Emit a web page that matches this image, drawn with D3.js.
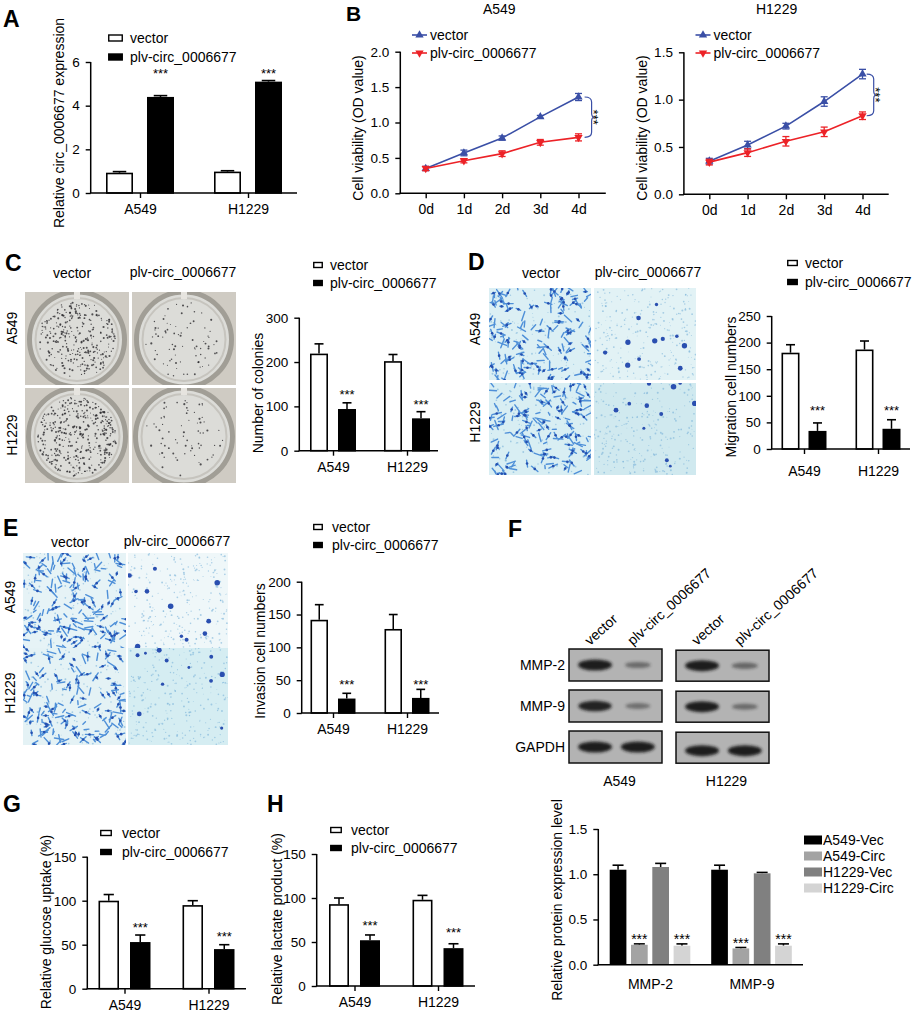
<!DOCTYPE html>
<html>
<head>
<meta charset="utf-8">
<script src="https://cdn.jsdelivr.net/npm/d3@7"></script>
<style>
  body { margin: 0; background: #fff; }
  svg { display: block; }
</style>
</head>
<body>
<svg id="fig" width="913" height="1013"></svg>
<script>
const FONT = '"Liberation Sans", Arial, Helvetica, sans-serif';

// ---- data ----
const cellLines = ["A549", "H1229"];
const seriesNames = ["vector", "plv-circ_0006677"];

// A: relative circ_0006677 expression
const exprVector = [0.93, 0.98], exprVectorErr = [0.05, 0.04];
const exprPlv = [4.40, 5.10], exprPlvErr = [0.06, 0.05];

// B: cell viability (OD value)
const days = ["0d", "1d", "2d", "3d", "4d"];
const odA549Vector = [0.35, 0.57, 0.78, 1.08, 1.36], odA549VectorErr = [0.03, 0.04, 0.03, 0.02, 0.05];
const odA549Plv = [0.35, 0.46, 0.56, 0.72, 0.79], odA549PlvErr = [0.03, 0.03, 0.04, 0.04, 0.05];
const odH1229Vector = [0.35, 0.52, 0.72, 0.98, 1.27], odH1229VectorErr = [0.03, 0.04, 0.03, 0.05, 0.05];
const odH1229Plv = [0.34, 0.44, 0.56, 0.66, 0.83], odH1229PlvErr = [0.03, 0.04, 0.05, 0.05, 0.04];

// C: number of colonies
const colVector = [219, 202], colVectorErr = [22, 15];
const colPlv = [94, 73], colPlvErr = [14, 15];

// D: migration cell numbers
const migVector = [181, 187], migVectorErr = [15, 16];
const migPlv = [34, 38], migPlvErr = [15, 17];

// E: invasion cell numbers
const invVector = [142, 128], invVectorErr = [23, 22];
const invPlv = [22, 23], invPlvErr = [8, 13];

// F: western blot band strength (A549 vector, A549 plv, H1229 vector, H1229 plv)
const blotRows = ["MMP-2", "MMP-9", "GAPDH"];
const mmp2Bands = [1.0, 0.30, 1.0, 0.34];
const mmp9Bands = [0.95, 0.26, 1.0, 0.30];
const gapdhBands = [1.0, 1.0, 1.0, 1.0];
const blotBands = [mmp2Bands, mmp9Bands, gapdhBands];

// F lower: relative protein expression level
const proteins = ["MMP-2", "MMP-9"];
const protSeries = ["A549-Vec", "A549-Circ", "H1229-Vec", "H1229-Circ"];
const protA549Vec = [1.05, 1.05], protA549VecErr = [0.05, 0.05];
const protA549Circ = [0.22, 0.18], protA549CircErr = [0.01, 0.01];
const protH1229Vec = [1.08, 1.01], protH1229VecErr = [0.04, 0.01];
const protH1229Circ = [0.21, 0.21], protH1229CircErr = [0.02, 0.02];

// G, H: glucose uptake and lactate product (%)
const gluVector = [100, 95], gluVectorErr = [7, 5];
const gluPlv = [53, 45], gluPlvErr = [8, 5];
const lacVector = [93, 98], lacVectorErr = [7, 5];
const lacPlv = [52, 43], lacPlvErr = [6, 5];

const BLUE = "#3a4fa6", RED = "#ec2227";

const svg = d3.select("#fig");
const defs = svg.append("defs");
defs.append("filter").attr("id", "soft")
  .attr("x", "-50%").attr("y", "-80%").attr("width", "200%").attr("height", "260%")
  .append("feGaussianBlur").attr("stdDeviation", 1.8);

function txt(g, x, y, s, size, opts) {
  opts = opts || {};
  return g.append("text")
    .attr("x", x).attr("y", y)
    .attr("font-family", FONT)
    .attr("font-size", size)
    .attr("font-weight", opts.bold ? "bold" : null)
    .attr("text-anchor", opts.anchor || "start")
    .attr("dominant-baseline", opts.base || null)
    .attr("fill", "#000")
    .text(s);
}

function vtxt(g, x, y, s, size) {
  return g.append("text")
    .attr("transform", `translate(${x},${y}) rotate(-90)`)
    .attr("font-family", FONT).attr("font-size", size)
    .attr("text-anchor", "middle").attr("dominant-baseline", "central")
    .text(s);
}

function styleAxis(ax, size) {
  ax.select(".domain").remove();
  ax.selectAll("line").attr("stroke", "#000").attr("stroke-width", 1.4);
  ax.selectAll("text").attr("font-size", size).attr("font-family", FONT).attr("fill", "#000");
}

function leftAxis(g, y, axisX, ticks, fmt) {
  g.append("line")
    .attr("x1", axisX).attr("x2", axisX)
    .attr("y1", y.range()[0]).attr("y2", y.range()[1])
    .attr("stroke", "#000").attr("stroke-width", 1.5);
  const ax = g.append("g").attr("transform", `translate(${axisX},0)`)
    .call(d3.axisLeft(y).tickValues(ticks).tickFormat(d3.format(fmt || "d")).tickSize(5).tickPadding(6));
  styleAxis(ax, 13.5);
}

function bottomAxis(g, x, y0, axisX, xEnd, tick, pad) {
  g.append("line")
    .attr("x1", axisX - 0.75).attr("x2", xEnd)
    .attr("y1", y0).attr("y2", y0)
    .attr("stroke", "#000").attr("stroke-width", 1.5);
  const ax = g.append("g").attr("transform", `translate(0,${y0})`)
    .call(d3.axisBottom(x).tickSize(tick).tickPadding(pad));
  styleAxis(ax, 14);
}

// grouped bar chart with upward error bars (GraphPad style)
function barPanel(cfg) {
  const g = svg.append("g");
  const y = d3.scaleLinear().domain([0, cfg.yMax]).range([cfg.y0, cfg.yTop]);
  const x = d3.scalePoint().domain(cfg.groups).range(cfg.centers);
  const n = cfg.series.length;
  const half = (n * cfg.bw + (n - 1) * cfg.gap) / 2;
  const sub = d3.scaleBand().domain(d3.range(n)).range([-half, half])
    .paddingInner(cfg.gap / (cfg.bw + cfg.gap));
  const bw = sub.bandwidth();

  cfg.series.forEach((s, si) => {
    const rows = cfg.groups.map((k, i) => ({
      v: s.values[i], e: s.err[i],
      star: s.stars ? s.stars[i] : null,
      cx: x(k) + sub(si) + bw / 2
    }));
    const sg = g.append("g");
    const sw = s.stroke ? 1.6 : 0;
    const cap = cfg.cap || bw * 0.5;
    sg.selectAll("line.eb").data(rows).join("line").attr("class", "eb")
      .attr("x1", d => d.cx).attr("x2", d => d.cx)
      .attr("y1", d => y(d.v)).attr("y2", d => y(d.v + d.e))
      .attr("stroke", "#000").attr("stroke-width", 1.5);
    sg.selectAll("line.cap").data(rows).join("line").attr("class", "cap")
      .attr("x1", d => d.cx - cap / 2).attr("x2", d => d.cx + cap / 2)
      .attr("y1", d => y(d.v + d.e)).attr("y2", d => y(d.v + d.e))
      .attr("stroke", "#000").attr("stroke-width", 1.6);
    sg.selectAll("rect").data(rows).join("rect")
      .attr("x", d => d.cx - bw / 2 + sw / 2)
      .attr("y", d => y(d.v) + sw / 2)
      .attr("width", bw - sw)
      .attr("height", d => cfg.y0 - y(d.v) - sw / 2)
      .attr("fill", s.fill)
      .attr("stroke", s.stroke || "none")
      .attr("stroke-width", sw);
    sg.selectAll("text.star").data(rows.filter(d => d.star != null)).join("text").attr("class", "star")
      .attr("x", d => d.cx).attr("y", d => y(d.star) + (cfg.starSize || 13) * 0.55)
      .attr("text-anchor", "middle").attr("font-family", FONT)
      .attr("font-size", cfg.starSize || 13)
      .text("***");
  });

  leftAxis(g, y, cfg.axisX, cfg.yTicks, cfg.fmt);
  bottomAxis(g, x, cfg.y0, cfg.axisX, cfg.xEnd, cfg.xTick == null ? 5 : cfg.xTick, cfg.xPad || 6);
  vtxt(g, cfg.labelX, cfg.labelY, cfg.ylabel, 14);

  if (cfg.legend) {
    const L = cfg.legend;
    cfg.series.forEach((s, si) => {
      const yy = L.y + si * L.dy;
      g.append("rect")
        .attr("x", L.x + 0.75).attr("y", yy - L.h / 2)
        .attr("width", L.w - 1.5).attr("height", L.h)
        .attr("fill", s.fill).attr("stroke", "#000").attr("stroke-width", 1.4);
      txt(g, L.tx, yy, s.name, 14, { base: "central" });
    });
  }
  return g;
}

// growth curve panel (B)
function linePanel(cfg) {
  const g = svg.append("g");
  const y = d3.scaleLinear().domain([0, cfg.yMax]).range([cfg.y0, cfg.yTop]);
  const x = d3.scalePoint().domain(days).range(cfg.xr);
  leftAxis(g, y, cfg.axisX, cfg.yTicks, ".1f");
  bottomAxis(g, x, cfg.y0, cfg.axisX, cfg.xEnd, 5, 6);
  vtxt(g, cfg.labelX, cfg.labelY, "Cell viability (OD value)", 14);
  txt(g, cfg.titleX, 9, cfg.title, 14, { anchor: "middle", base: "central" });

  const line = d3.line().x((d, i) => x(days[i])).y(d => y(d));
  cfg.series.forEach((s, si) => {
    const sg = g.append("g");
    const rows = s.values.map((v, i) => ({ v, e: s.err[i], cx: x(days[i]) }));
    sg.append("path").datum(s.values).attr("d", line)
      .attr("fill", "none").attr("stroke", s.color).attr("stroke-width", 1.6);
    sg.selectAll("line.eb").data(rows).join("line").attr("class", "eb")
      .attr("x1", d => d.cx).attr("x2", d => d.cx)
      .attr("y1", d => y(d.v - d.e)).attr("y2", d => y(d.v + d.e))
      .attr("stroke", s.color).attr("stroke-width", 1.3);
    [1, -1].forEach(sgn => {
      sg.selectAll("line.cap" + (sgn > 0 ? "t" : "b")).data(rows).join("line")
        .attr("class", "cap" + (sgn > 0 ? "t" : "b"))
        .attr("x1", d => d.cx - 3.5).attr("x2", d => d.cx + 3.5)
        .attr("y1", d => y(d.v + sgn * d.e)).attr("y2", d => y(d.v + sgn * d.e))
        .attr("stroke", s.color).attr("stroke-width", 1.3);
    });
    sg.selectAll("path.mk").data(rows).join("path").attr("class", "mk")
      .attr("d", d3.symbol(d3.symbolTriangle, 30))
      .attr("transform", d => `translate(${d.cx},${y(d.v)}) rotate(${s.down ? 180 : 0})`)
      .attr("fill", s.color);

    // legend
    const ly = 35 + si * 18;
    g.append("line").attr("x1", cfg.legendX).attr("x2", cfg.legendX + 15)
      .attr("y1", ly).attr("y2", ly).attr("stroke", s.color).attr("stroke-width", 1.6);
    g.append("path").attr("d", d3.symbol(d3.symbolTriangle, 30))
      .attr("transform", `translate(${cfg.legendX + 7.5},${ly}) rotate(${s.down ? 180 : 0})`)
      .attr("fill", s.color);
    txt(g, cfg.legendX + 18, ly, s.name, 14, { base: "central" });
  });

  // significance bracket at day 4
  const last = days.length - 1;
  const y1 = y(cfg.series[0].values[last]), y2 = y(cfg.series[1].values[last]);
  const bx = cfg.bracketX, ym = (y1 + y2) / 2;
  g.append("path")
    .attr("d", `M${bx - 7},${y1} Q${bx},${y1} ${bx},${y1 + 5} L${bx},${ym - 4} Q${bx},${ym} ${bx + 3},${ym}` +
      ` Q${bx},${ym} ${bx},${ym + 4} L${bx},${y2 - 5} Q${bx},${y2} ${bx - 7},${y2}`)
    .attr("fill", "none").attr("stroke", BLUE).attr("stroke-width", 1.2);
  g.append("text")
    .attr("transform", `translate(${bx + 6},${ym}) rotate(90)`)
    .attr("text-anchor", "middle").attr("dominant-baseline", "central")
    .attr("font-family", FONT).attr("font-size", 13)
    .attr("dy", "0.3em")
    .text("***");
}

// ---- photo stand-ins (textures only, not data) ----
let clipN = 0;
function tileGroup(x, y, w, h) {
  const id = "clip" + (clipN++);
  defs.append("clipPath").attr("id", id)
    .append("rect").attr("x", x).attr("y", y).attr("width", w).attr("height", h);
  return svg.append("g").attr("clip-path", `url(#${id})`);
}

function plateTile(x, y, w, h, nCol, seed) {
  const g = tileGroup(x, y, w, h);
  g.append("rect").attr("x", x).attr("y", y).attr("width", w).attr("height", h).attr("fill", "#cfcbc3");
  const cx = x + w / 2, cy = y + h / 2 + 1, r = Math.min(w, h) / 2 + 1;
  g.append("circle").attr("cx", cx).attr("cy", cy).attr("r", r)
    .attr("fill", "#dcdcd8").attr("stroke", "#a19e96").attr("stroke-width", 5);
  g.append("circle").attr("cx", cx).attr("cy", cy).attr("r", r - 6)
    .attr("fill", "none").attr("stroke", "#c6c4be").attr("stroke-width", 2);
  g.append("rect").attr("x", cx - 3).attr("y", y).attr("width", 6).attr("height", 7).attr("fill", "#e6e4df");
  const rnd = d3.randomLcg(seed);
  const pts = d3.range(nCol).map(() => {
    const a = rnd() * 2 * Math.PI, rr = Math.sqrt(rnd()) * (r - 9);
    return [cx + rr * Math.cos(a), cy + rr * Math.sin(a), 0.5 + rnd() * 0.6];
  });
  g.selectAll("circle.col").data(pts).join("circle").attr("class", "col")
    .attr("cx", d => d[0]).attr("cy", d => d[1]).attr("r", d => d[2])
    .attr("fill", "#2c2a2e").attr("opacity", 0.8);
}

function cellTile(x, y, w, h, dense, seed, bg) {
  const g = tileGroup(x, y, w, h);
  g.append("rect").attr("x", x).attr("y", y).attr("width", w).attr("height", h).attr("fill", bg);
  const rnd = d3.randomLcg(seed);
  const specks = d3.range(dense ? 120 : 260).map(() => [x + rnd() * w, y + rnd() * h, 0.4 + rnd() * 0.6]);
  g.selectAll("circle.sp").data(specks).join("circle").attr("class", "sp")
    .attr("cx", d => d[0]).attr("cy", d => d[1]).attr("r", d => d[2])
    .attr("fill", "#7ab2d8").attr("opacity", 0.6);
  if (dense) {
    const cells = d3.range(170).map(() => ({
      px: x + rnd() * w, py: y + rnd() * h, a: rnd() * Math.PI, L: 3 + rnd() * 7
    }));
    g.selectAll("line.cell").data(cells).join("line").attr("class", "cell")
      .attr("x1", d => d.px - Math.cos(d.a) * d.L / 2).attr("y1", d => d.py - Math.sin(d.a) * d.L / 2)
      .attr("x2", d => d.px + Math.cos(d.a) * d.L / 2).attr("y2", d => d.py + Math.sin(d.a) * d.L / 2)
      .attr("stroke", "#4f90d8").attr("stroke-width", 1.4).attr("stroke-linecap", "round");
    g.selectAll("circle.nuc").data(cells.filter((d, i) => i % 2 === 0)).join("circle").attr("class", "nuc")
      .attr("cx", d => d.px).attr("cy", d => d.py).attr("r", 1.3).attr("fill", "#2550b0");
  } else {
    const blobs = d3.range(11).map(() => [x + rnd() * w, y + rnd() * h, 1.4 + rnd() * 1.4]);
    g.selectAll("circle.bl").data(blobs).join("circle").attr("class", "bl")
      .attr("cx", d => d[0]).attr("cy", d => d[1]).attr("r", d => d[2])
      .attr("fill", "#2a4fb0");
  }
}

function photoLabels(cols, rowsC, topY, sideX) {
  txt(svg, cols[0], topY, "vector", 14, { anchor: "middle", base: "central" });
  txt(svg, cols[1], topY - 1, "plv-circ_0006677", 14, { anchor: "middle", base: "central" });
  vtxt(svg, sideX, rowsC[0], "A549", 14);
  vtxt(svg, sideX, rowsC[1], "H1229", 14);
}

// ---- panel letters ----
[["A", 3, 27], ["B", 346, 21], ["C", 5, 271], ["D", 468, 270],
 ["E", 3, 536], ["F", 508, 537], ["G", 3, 812], ["H", 267, 812]]
  .forEach(([s, x, y]) => txt(svg, x, y, s, s === "B" ? 21 : 23, { bold: true }));

// ---- A ----
barPanel({
  groups: cellLines, axisX: 90.7, y0: 193, yTop: 62, yMax: 6, yTicks: [0, 2, 4, 6],
  xEnd: 297, centers: [140, 248], bw: 27, gap: 14,
  series: [
    { name: seriesNames[0], values: exprVector, err: exprVectorErr, fill: "#fff", stroke: "#000" },
    { name: seriesNames[1], values: exprPlv, err: exprPlvErr, fill: "#000", stroke: "#000", stars: [5.59, 5.59] }
  ],
  ylabel: "Relative circ_0006677 expression", labelX: 59, labelY: 123,
  legend: { x: 108, y: 38, dy: 19, w: 15, h: 6, tx: 130 }
});

// ---- B ----
linePanel({
  axisX: 400.3, y0: 193.3, yTop: 51.7, yMax: 2.0, yTicks: [0, 0.5, 1.0, 1.5, 2.0],
  xr: [425.7, 578.5], xEnd: 605.8, title: "A549", titleX: 499.3,
  bracketX: 591.6, legendX: 412, labelX: 358, labelY: 128,
  series: [
    { name: seriesNames[0], values: odA549Vector, err: odA549VectorErr, color: BLUE },
    { name: seriesNames[1], values: odA549Plv, err: odA549PlvErr, color: RED, down: true }
  ]
});
linePanel({
  axisX: 683.9, y0: 194.3, yTop: 52.3, yMax: 1.5, yTicks: [0, 0.5, 1.0, 1.5],
  xr: [709.3, 862.5], xEnd: 888.7, title: "H1229", titleX: 776.6,
  bracketX: 873.7, legendX: 695.5, labelX: 642, labelY: 128,
  series: [
    { name: seriesNames[0], values: odH1229Vector, err: odH1229VectorErr, color: BLUE },
    { name: seriesNames[1], values: odH1229Plv, err: odH1229PlvErr, color: RED, down: true }
  ]
});

// ---- C ----
plateTile(25, 292, 104, 93, 300, 0.11);
plateTile(132, 292, 104, 93, 80, 0.23);
plateTile(25, 388, 104, 95, 380, 0.37);
plateTile(132, 388, 104, 95, 70, 0.41);
photoLabels([72, 183], [328, 435], 273, 12);
barPanel({
  groups: cellLines, axisX: 299.3, y0: 450.7, yTop: 317.7, yMax: 300, yTicks: [0, 100, 200, 300],
  xEnd: 438, centers: [333, 407], bw: 18, gap: 10,
  series: [
    { name: seriesNames[0], values: colVector, err: colVectorErr, fill: "#fff", stroke: "#000" },
    { name: seriesNames[1], values: colPlv, err: colPlvErr, fill: "#000", stroke: "#000", stars: [132, 110] }
  ],
  ylabel: "Number of colonies", labelX: 258, labelY: 393,
  legend: { x: 313, y: 265, dy: 18, w: 10, h: 5, tx: 330 }
});

// ---- D ----
cellTile(489, 288, 102, 92, true, 0.13, "#dbeff4");
cellTile(594, 288, 102, 92, false, 0.29, "#e2f2f5");
cellTile(489, 383, 102, 92, true, 0.47, "#d8eef3");
cellTile(594, 383, 102, 92, false, 0.53, "#d0e9ef");
photoLabels([541, 648], [329, 422], 273, 475);
barPanel({
  groups: cellLines, axisX: 771.7, y0: 449, yTop: 316, yMax: 250, yTicks: [0, 50, 100, 150, 200, 250],
  xEnd: 910, centers: [804, 878], bw: 18, gap: 9, xPad: 12,
  series: [
    { name: seriesNames[0], values: migVector, err: migVectorErr, fill: "#fff", stroke: "#000" },
    { name: seriesNames[1], values: migPlv, err: migPlvErr, fill: "#000", stroke: "#000", stars: [77, 77] }
  ],
  ylabel: "Migration cell numbers", labelX: 731, labelY: 387,
  legend: { x: 787, y: 263, dy: 19, w: 11, h: 5, tx: 805 }
});

// ---- E ----
cellTile(23, 553, 103, 95, true, 0.61, "#e6f3f6");
cellTile(128, 553, 100, 95, false, 0.67, "#eff7f9");
cellTile(23, 648, 103, 97, true, 0.71, "#e4f2f5");
cellTile(128, 648, 100, 97, false, 0.79, "#d5edf2");
photoLabels([70, 177], [597, 693], 542, 10);
barPanel({
  groups: cellLines, axisX: 301.7, y0: 713, yTop: 581.7, yMax: 200, yTicks: [0, 50, 100, 150, 200],
  xEnd: 439, centers: [333, 407], bw: 17.5, gap: 10,
  series: [
    { name: seriesNames[0], values: invVector, err: invVectorErr, fill: "#fff", stroke: "#000" },
    { name: seriesNames[1], values: invPlv, err: invPlvErr, fill: "#000", stroke: "#000", stars: [47, 47] }
  ],
  ylabel: "Invasion cell numbers", labelX: 260, labelY: 651,
  legend: { x: 313, y: 527, dy: 18, w: 10, h: 5, tx: 332 }
});

// ---- F: western blots ----
(function () {
  const g = svg.append("g");
  const rowY = d3.scaleBand().domain(blotRows).range([649, 763]).paddingInner(0.22);
  const colX = d3.scaleBand().domain(cellLines).range([569, 769]).paddingInner(0.131);
  const lanes = [0.28, 0.74];
  cellLines.forEach((cl, ci) => {
    const bx = colX(cl), w = colX.bandwidth();
    blotRows.forEach((row, ri) => {
      const by = rowY(row) + ci * 1.2, h = rowY.bandwidth() - ci;
      g.append("rect").attr("x", bx).attr("y", by).attr("width", w).attr("height", h)
        .attr("fill", "#b3b3b3").attr("stroke", "#111").attr("stroke-width", 1.5);
      const bands = lanes.map((f, li) => ({ cx: bx + f * w, k: blotBands[ri][ci * 2 + li] }));
      g.selectAll(null).data(bands).join("ellipse")
        .attr("cx", d => d.cx).attr("cy", by + h / 2 + (ri === 2 && ci === 1 ? 3 : 0))
        .attr("rx", d => 11 + 6 * d.k).attr("ry", d => 2 + 3.5 * d.k)
        .attr("fill", "#141414").attr("opacity", d => 0.25 + 0.7 * d.k)
        .attr("filter", "url(#soft)");
    });
    // lane headers
    lanes.forEach((f, li) => {
      g.append("text")
        .attr("transform", `translate(${bx + f * w - 5},${rowY(blotRows[0]) - 3}) rotate(-42)`)
        .attr("font-family", FONT).attr("font-size", 14)
        .text(li === 0 ? "vector" : "plv-circ_0006677");
    });
    txt(g, bx + w / 2 + 4, 781, cl, 14, { anchor: "middle", base: "central" });
  });
  blotRows.forEach(row => {
    txt(g, 565, rowY(row) + rowY.bandwidth() / 2, row, 14, { anchor: "end", base: "central" });
  });
})();

// ---- F lower: protein quantification ----
const protFills = ["#000", "#a3a3a3", "#808080", "#d4d4d4"];
barPanel({
  groups: proteins, axisX: 598.3, y0: 964.7, yTop: 829, yMax: 1.5, yTicks: [0, 0.5, 1.0, 1.5], fmt: ".1f",
  xEnd: 803, centers: [650, 751.5], bw: 16.7, gap: 4.6, xTick: 0, xPad: 14, cap: 11, starSize: 14,
  series: [
    { name: protSeries[0], values: protA549Vec, err: protA549VecErr, fill: protFills[0] },
    { name: protSeries[1], values: protA549Circ, err: protA549CircErr, fill: protFills[1], stars: [0.31, 0.27] },
    { name: protSeries[2], values: protH1229Vec, err: protH1229VecErr, fill: protFills[2] },
    { name: protSeries[3], values: protH1229Circ, err: protH1229CircErr, fill: protFills[3], stars: [0.31, 0.31] }
  ],
  ylabel: "Relative protein expression level", labelX: 557, labelY: 900
});
(function () {
  const g = svg.append("g");
  protSeries.forEach((s, i) => {
    const yy = 840 + i * 16;
    g.append("rect").attr("x", 804).attr("y", yy - 4.5).attr("width", 18).attr("height", 9).attr("fill", protFills[i]);
    txt(g, 823, yy, s, 14, { base: "central" });
  });
})();

// ---- G ----
barPanel({
  groups: cellLines, axisX: 87.3, y0: 988.7, yTop: 856.7, yMax: 150, yTicks: [0, 50, 100, 150],
  xEnd: 246, centers: [124.5, 208.5], bw: 20.5, gap: 11,
  series: [
    { name: seriesNames[0], values: gluVector, err: gluVectorErr, fill: "#fff", stroke: "#000" },
    { name: seriesNames[1], values: gluPlv, err: gluPlvErr, fill: "#000", stroke: "#000", stars: [72, 62] }
  ],
  ylabel: "Relative glucose uptake (%)", labelX: 46, labelY: 922,
  legend: { x: 100, y: 833, dy: 19, w: 12, h: 5, tx: 122 }
});

// ---- H ----
barPanel({
  groups: cellLines, axisX: 316.7, y0: 986, yTop: 854, yMax: 150, yTicks: [0, 50, 100, 150],
  xEnd: 475, centers: [354.5, 438], bw: 20, gap: 11,
  series: [
    { name: seriesNames[0], values: lacVector, err: lacVectorErr, fill: "#fff", stroke: "#000" },
    { name: seriesNames[1], values: lacPlv, err: lacPlvErr, fill: "#000", stroke: "#000", stars: [72, 64] }
  ],
  ylabel: "Relative lactate product (%)", labelX: 277, labelY: 919,
  legend: { x: 330, y: 830, dy: 18, w: 12, h: 5, tx: 351 }
});
</script>
</body>
</html>
